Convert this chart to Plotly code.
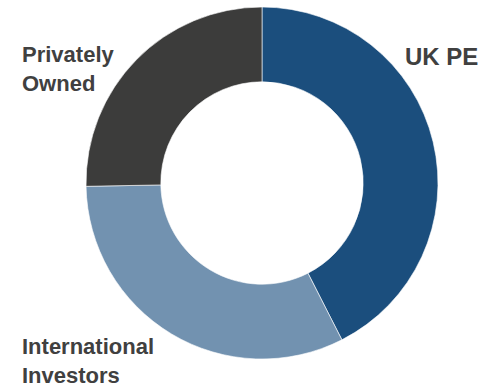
import plotly.graph_objects as go

labels = ["UK PE", "International Investors", "Privately Owned"]
values = [42.5, 32.2, 25.3]
colors = ["#1b4e7d", "#7292b0", "#3c3c3b"]

W, H = 479, 388
cx, cy, r = 262, 183, 176

fig = go.Figure(go.Pie(
    labels=labels, values=values, sort=False, direction="clockwise", rotation=0,
    hole=0.575, textinfo="none", hoverinfo="label+percent",
    marker=dict(colors=colors, line=dict(color="#ffffff", width=0.6)),
    domain=dict(x=[(cx - r) / W, (cx + r) / W], y=[(H - cy - r) / H, (H - cy + r) / H]),
    showlegend=False,
))

font = dict(family="Liberation Sans, Arial, sans-serif", size=22, color="#404040")
ann = [
    dict(text="<b>UK PE</b>", x=404 / W, y=1 - 42 / H, font=dict(font, size=24)),
    dict(text="<b>Privately<br>Owned</b>", x=21 / W, y=1 - 41 / H, font=font),
    dict(text="<b>International<br>Investors</b>", x=21 / W, y=1 - 333 / H, font=font),
]
for a in ann:
    fig.add_annotation(xref="paper", yref="paper", xanchor="left", yanchor="top",
                       showarrow=False, align="left", borderpad=0, **a)

fig.update_layout(width=W, height=H, margin=dict(l=0, r=0, t=0, b=0),
                  paper_bgcolor="white", plot_bgcolor="white")
fig.write_html("out.html")
